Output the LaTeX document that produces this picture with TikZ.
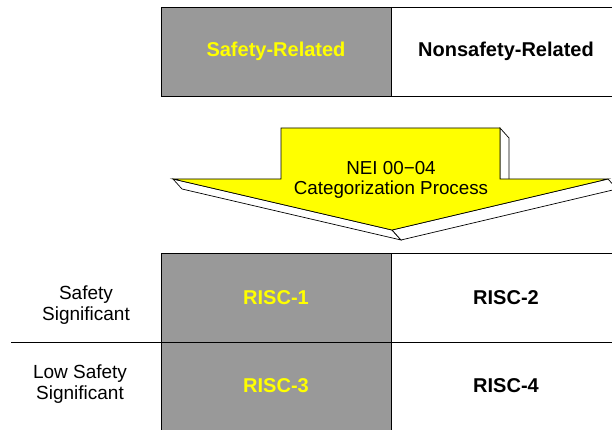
\documentclass[tikz,border=0pt]{standalone}
\usepackage{fontspec}
\setmainfont{Liberation Sans}
\definecolor{cellgray}{HTML}{999999}
\definecolor{arrowyellow}{HTML}{FFFF00}
\begin{document}
\begin{tikzpicture}[x=1pt,y=-1pt,
  cellline/.style={draw=black,line width=0.9pt},
  hdr/.style={font=\fontsize{20}{22}\selectfont\bfseries, inner sep=0pt},
  lbl/.style={font=\fontsize{19}{21}\selectfont, align=center, inner sep=0pt},
  face/.style={draw=black, line width=0.7pt, line join=miter}]
\useasboundingbox (0,0) rectangle (612,430);
\begin{scope}
\clip (0,0) rectangle (612,430);
% top table
\fill[cellgray] (161,7) rectangle (391,96);
\draw[cellline] (612,7) -- (161,7) -- (161,96) -- (612,96);
\draw[cellline] (391,7) -- (391,96);
% bottom table
\fill[cellgray] (161,253) rectangle (391,430);
\draw[cellline] (161,430) -- (161,253) -- (612,253);
\draw[cellline] (391,253) -- (391,430);
\draw[cellline] (11,342) -- (612,342);
% 3D arrow: side faces
\draw[face, fill=white] (500,128) -- (509,138) -- (509,189) -- (500,179) -- cycle;
\draw[face, fill=white] (173,179) -- (392,230) -- (401,240) -- (182,189) -- cycle;
\draw[face, fill=white] (392,230) -- (608,179) -- (617,189) -- (401,240) -- cycle;
% front face
\draw[face, fill=arrowyellow] (281,128) -- (500,128) -- (500,179) -- (608,179)
  -- (392,230) -- (173,179) -- (281,179) -- cycle;
\end{scope}
% texts
\node[hdr, text=arrowyellow] (sr) at (276,51.5) {Safety-Related};
\node[hdr] (nsr) at (506,51.5) {Nonsafety-Related};
\node[lbl, font=\fontsize{18.8}{20}\selectfont] (proc) at (391,180) {NEI 00−04\\Categorization Process};
\node[hdr, text=arrowyellow] (r1) at (276,297.5) {RISC-1};
\node[hdr] (r2) at (506,297.5) {RISC-2};
\node[hdr, text=arrowyellow] (r3) at (276,386) {RISC-3};
\node[hdr] (r4) at (506,386) {RISC-4};
\node[lbl] (ss) at (86,305) {Safety\\Significant};
\node[lbl] (lss) at (80,384) {Low Safety\\Significant};
\end{tikzpicture}
\end{document}
